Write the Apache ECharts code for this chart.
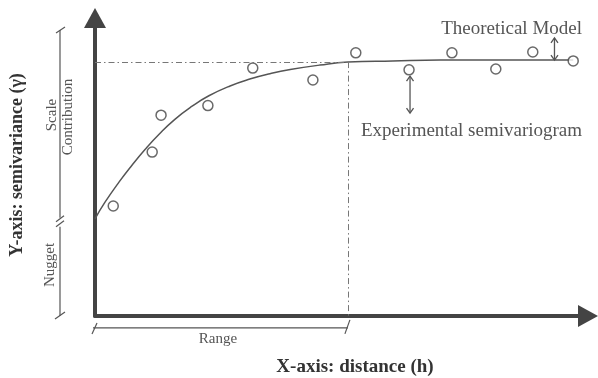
<!DOCTYPE html>
<html>
<head>
<meta charset="utf-8">
<script src="https://cdn.jsdelivr.net/npm/echarts@6/dist/echarts.min.js"></script>
<style>
  html, body { margin: 0; padding: 0; background: #fff; }
  #chart { width: 598px; height: 378px; }
</style>
</head>
<body>
<div id="chart"></div>
<script>
// experimental semivariogram points (lag distance h, semivariance)
var lagDistance = [3.7, 11.6, 13.4, 22.9, 32.0, 44.2, 52.9, 63.7, 72.4, 81.3, 88.8, 97.0];
var semivariance = [36.9, 55.0, 67.4, 70.6, 83.2, 79.2, 88.3, 82.6, 88.3, 82.9, 88.6, 85.6];

// theoretical model
var modelDistance = [0, 2.0, 4.9, 7.5, 10.1, 13.0, 16.2, 19.7, 23.1, 27.4, 31.4, 35.5, 39.6, 45.6, 51.3, 60.4, 70.0, 82.2, 97.0];
var modelValue = [32.6, 38.1, 45.0, 50.6, 55.8, 61.0, 66.0, 70.4, 73.9, 77.2, 79.5, 81.3, 82.7, 84.2, 85.2, 85.6, 85.9, 85.9, 85.9];

// model parameters
var nugget = 32.6;
var sill = 85.2;
var range = 51.3;

var SERIF = "'Liberation Serif', 'DejaVu Serif', serif";
var INK = '#444';
var TXT = '#555';

var chart = echarts.init(document.getElementById('chart'));

var points = lagDistance.map(function (d, i) { return [d, semivariance[i]]; });
var model = modelDistance.map(function (d, i) { return [d, modelValue[i]]; });

var axisCommon = {
  type: 'value',
  min: 0,
  max: 100,
  axisLine: {
    show: true,
    onZero: false,
    symbol: ['none', 'triangle'],
    symbolSize: [22, 20],
    lineStyle: { color: INK, width: 4 }
  },
  axisTick: { show: false },
  axisLabel: { show: false },
  splitLine: { show: false }
};

chart.setOption({
  animation: false,
  backgroundColor: '#fff',
  grid: { left: 95, right: 10, top: 18, bottom: 62 },
  xAxis: axisCommon,
  yAxis: axisCommon,
  series: [
    {
      name: 'Theoretical Model',
      type: 'line',
      data: model,
      smooth: true,
      symbol: 'none',
      lineStyle: { color: '#555', width: 1.5 },
      markLine: {
        silent: true,
        symbol: 'none',
        label: { show: false },
        lineStyle: { color: '#777', width: 1, type: [6, 3, 1.5, 3] },
        data: [
          [{ coord: [0, sill] }, { coord: [range, sill] }],
          [{ coord: [range, sill] }, { coord: [range, 0] }]
        ]
      },
      z: 2
    },
    {
      name: 'Experimental semivariogram',
      type: 'scatter',
      data: points,
      symbol: 'circle',
      symbolSize: 10,
      itemStyle: { color: '#fff', borderColor: INK, borderWidth: 1.5 },
      z: 3
    }
  ]
});

function px(x, y) { return chart.convertToPixel({ gridIndex: 0 }, [x, y]); }

function seg(a, b, w) {
  return { type: 'line', silent: true, shape: { x1: a[0], y1: a[1], x2: b[0], y2: b[1] },
    style: { stroke: '#555', lineWidth: w || 1.2 } };
}

function label(text, x, y, size, opts) {
  opts = opts || {};
  return {
    type: 'text', silent: true, x: x, y: y, rotation: opts.rot || 0,
    style: {
      text: text, fill: opts.fill || TXT, font: (opts.bold ? 'bold ' : '') + size + 'px ' + SERIF,
      align: opts.align || 'center', verticalAlign: 'middle'
    }
  };
}

function doubleArrow(x, yLow, yHigh) {
  var a = px(x, yLow), b = px(x, yHigh);
  return [
    seg(a, b, 1.3),
    { type: 'polyline', silent: true, shape: { points: [[a[0] - 3.5, a[1] - 5], a, [a[0] + 3.5, a[1] - 5]] },
      style: { stroke: '#555', lineWidth: 1.3, fill: null } },
    { type: 'polyline', silent: true, shape: { points: [[b[0] - 3.5, b[1] + 5], b, [b[0] + 3.5, b[1] + 5]] },
      style: { stroke: '#555', lineWidth: 1.3, fill: null } }
  ];
}

var g = [];

// scale / nugget bar left of the y axis
var barX = -7.1;
var barTop = px(barX, 96), barBottom = px(barX, 0), brk = px(barX, nugget);
g.push(seg(barTop, [brk[0], brk[1] - 1]));
g.push(seg([brk[0], brk[1] + 8], barBottom));
g.push(seg([barTop[0] - 4, barTop[1] + 3], [barTop[0] + 5, barTop[1] - 3]));
g.push(seg([barBottom[0] - 5, barBottom[1] + 3], [barBottom[0] + 5, barBottom[1] - 4]));
g.push(seg([brk[0] - 4, brk[1] + 3], [brk[0] + 4, brk[1] - 3]));
g.push(seg([brk[0] - 4, brk[1] + 8], [brk[0] + 4, brk[1] + 2]));

// range bar under the x axis
var r0 = px(0, -4), r1 = px(range, -4);
g.push(seg([r0[0] - 2, r0[1]], r1));
g.push(seg([r0[0] - 3, r0[1] + 6], [r0[0] + 2, r0[1] - 5]));
g.push(seg([r1[0] - 3, r1[1] + 6], [r1[0] + 2, r1[1] - 8]));

// double arrows
g = g.concat(doubleArrow(93.2, 85.9, 93.3));
g = g.concat(doubleArrow(63.9, 68.1, 80.5));

// texts
g.push(label('Scale', 52, 115, 15, { rot: Math.PI / 2 }));
g.push(label('Contribution', 68, 117, 15, { rot: Math.PI / 2 }));
g.push(label('Nugget', 50, 265, 15, { rot: Math.PI / 2 }));
g.push(label('Range', 218, 339, 15));
g.push(label('Theoretical Model', 582, 29, 19, { align: 'right' }));
g.push(label('Experimental semivariogram', 361, 131, 19, { align: 'left' }));
g.push(label('Y-axis: semivariance (\u03b3)', 17, 165, 18, { rot: Math.PI / 2, bold: true, fill: '#333' }));
g.push(label('X-axis: distance (h)', 355, 367, 19, { bold: true, fill: '#333' }));

chart.setOption({ graphic: g });
</script>
</body>
</html>
